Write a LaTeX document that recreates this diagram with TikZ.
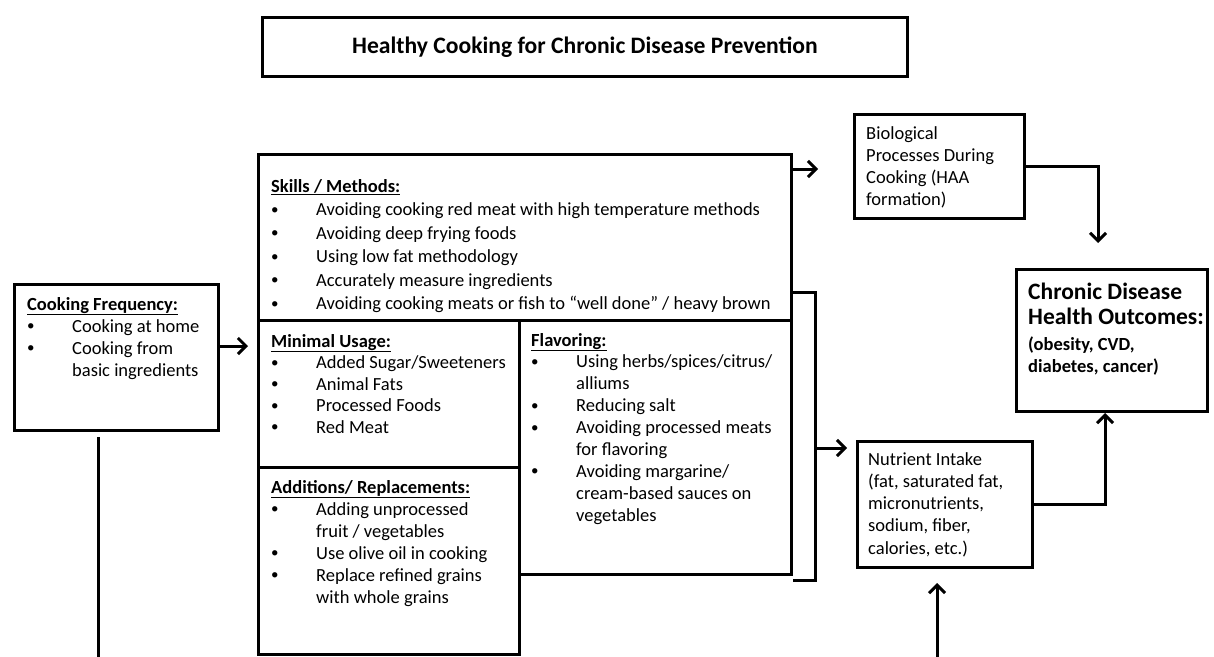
\documentclass[tikz,border=0pt]{standalone}
\usepackage{fontspec}
\setmainfont{Carlito}
\usetikzlibrary{arrows.meta}
\newcommand\blk[2]{\vtop{\baselineskip=#1pt\lineskiplimit=-100pt\lineskip=0pt\relax #2}}
\newcommand\hd[1]{\hbox{\underline{\textbf{#1}}}}
\newcommand\bi[1]{\hbox{\kern0pt\makebox[45pt][l]{\raisebox{1.5pt}{\fontsize{15}{15}\selectfont\textbullet}}#1}}
\newcommand\ci[1]{\hbox{\kern45pt #1}}
\newcommand\pl[1]{\hbox{#1}}
\begin{document}
\begin{tikzpicture}[x=1pt,y=-1pt,
  box/.style={draw, line width=3pt, inner sep=0pt, anchor=north west, line join=miter},
  txt/.style={anchor=base west, inner sep=0pt, font=\fontsize{18.5}{22}\selectfont},
  conn/.style={line width=3pt, line join=miter},
  arr/.style={conn, -{Straight Barb[length=8pt,width=16pt,line width=3pt]}}]
\useasboundingbox (0,0) rectangle (1214,656);
% boxes
\node[box, minimum width=645pt, minimum height=59pt] (title) at (261,16)
  {\fontsize{23.6}{28}\selectfont\bfseries Healthy Cooking for Chronic Disease Prevention};
\node[box, minimum width=204pt, minimum height=146pt] (cf) at (13,283) {};
\node[box, minimum width=533pt, minimum height=166pt] (skills) at (257,153) {};
\node[box, minimum width=261pt, minimum height=147pt] (minimal) at (257,319) {};
\node[box, minimum width=261pt, minimum height=187pt] (additions) at (257,466) {};
\node[box, minimum width=272pt, minimum height=254pt] (flavor) at (518,319) {};
\node[box, minimum width=170pt, minimum height=104pt] (bio) at (853,113) {};
\node[box, minimum width=175pt, minimum height=126pt] (nutrient) at (856,440) {};
\node[box, minimum width=191pt, minimum height=142pt] (chronic) at (1015,268) {};
% texts
\node[txt] (cfT) at (27,310) {\blk{22}{\hd{Cooking Frequency:}\bi{Cooking at home}\bi{Cooking from}\ci{basic ingredients}}};
\node[txt] (skillsT) at (271,192) {\blk{23.5}{\hd{Skills / Methods:}%
  \bi{Avoiding cooking red meat with high temperature methods}%
  \bi{Avoiding deep frying foods}%
  \bi{Using low fat methodology}%
  \bi{Accurately measure ingredients}%
  \bi{Avoiding cooking meats or fish to “well done” / heavy brown}}};
\node[txt] (minimalT) at (271,347) {\blk{21.5}{\hd{Minimal Usage:}%
  \bi{Added Sugar/Sweeteners}\bi{Animal Fats}\bi{Processed Foods}\bi{Red Meat}}};
\node[txt] (additionsT) at (271,493) {\blk{22}{\hd{Additions/ Replacements:}%
  \bi{Adding unprocessed}\ci{fruit / vegetables}\bi{Use olive oil in cooking}%
  \bi{Replace refined grains}\ci{with whole grains}}};
\node[txt] (flavorT) at (531,346) {\blk{21.9}{\hd{Flavoring:}%
  \bi{Using herbs/spices/citrus/}\ci{alliums}\bi{Reducing salt}%
  \bi{Avoiding processed meats}\ci{for flavoring}%
  \bi{Avoiding margarine/}\ci{cream-based sauces on}\ci{vegetables}}};
\node[txt] (bioT) at (866,139) {\blk{22}{\pl{Biological}\pl{Processes During}\pl{Cooking (HAA}\pl{formation)}}};
\node[txt] (nutrientT) at (868,465) {\blk{22.3}{\pl{Nutrient Intake}\pl{(fat, saturated fat,}\pl{micronutrients,}\pl{sodium, fiber,}\pl{calories, etc.)}}};
\node[txt] (chronicT) at (1028,299) {\vtop{\lineskiplimit=-100pt\lineskip=0pt
  \hbox{\fontsize{23.5}{25}\selectfont\bfseries Chronic Disease}%
  \baselineskip=25pt\hbox{\fontsize{23.5}{25}\selectfont\bfseries Health Outcomes:}%
  \baselineskip=26pt\hbox{\bfseries (obesity, CVD,}%
  \baselineskip=22pt\hbox{\bfseries diabetes, cancer)}}};
% connectors
\coordinate (a1e) at (248,346);
\draw[arr] (cf.east |- a1e) -- (a1e);
\coordinate (vtop) at (98,437);
\coordinate (vbot) at (98,658);
\draw[conn] (vtop) -- (vbot);
\coordinate (a3e) at (818,169);
\draw[arr] (skills.east |- a3e) -- (a3e);
\coordinate (a4e) at (1098,243);
\draw[arr] (bio.east) -| (a4e);
\coordinate (br1) at (815,292);
\coordinate (br2) at (815,580);
\coordinate (br3) at (793,580);
\draw[conn] (skills.east |- br1) -- (br1) -- (br2) -- (br3);
\coordinate (a6s) at (815,448);
\coordinate (a6e) at (847,448);
\draw[arr] (a6s) -- (a6e);
\coordinate (a7e) at (1105,413);
\draw[arr] (nutrient.east) -| (a7e);
\coordinate (a8s) at (937,658);
\coordinate (a8e) at (937,583);
\draw[arr] (a8s) -- (a8e);
\end{tikzpicture}
\end{document}
